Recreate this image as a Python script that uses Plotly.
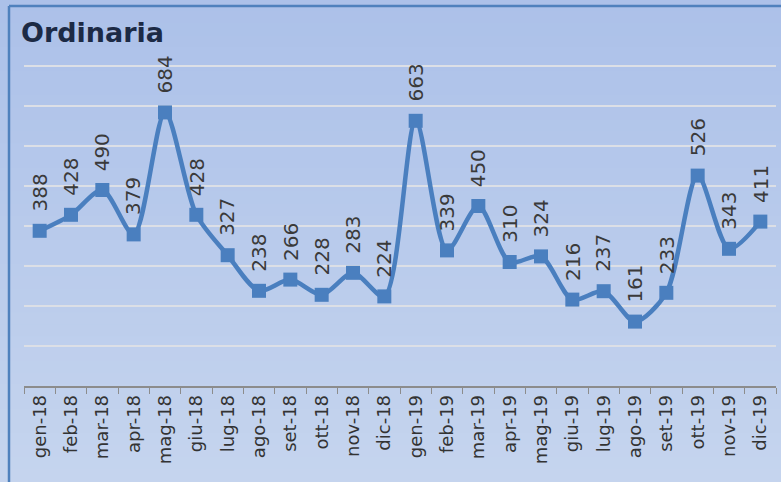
import plotly.graph_objects as go

months = ["gen-18","feb-18","mar-18","apr-18","mag-18","giu-18","lug-18","ago-18","set-18","ott-18","nov-18","dic-18",
          "gen-19","feb-19","mar-19","apr-19","mag-19","giu-19","lug-19","ago-19","set-19","ott-19","nov-19","dic-19"]
values = [388,428,490,379,684,428,327,238,266,228,283,224,
          663,339,450,310,324,216,237,161,233,526,343,411]
title_text = "Ordinaria"

W, H = 781, 482
L, R, T, B = 24, 5, 62, 96
YMAX = 810
FONT = "DejaVu Sans, Verdana, sans-serif"

fig = go.Figure()
fig.add_trace(go.Scatter(
    x=months, y=values, mode="lines+markers",
    line=dict(color="#4a7fbf", width=4.5, shape="spline", smoothing=0.8),
    marker=dict(symbol="square", size=14, color="#4a7fbf"),
    hoverinfo="x+y", showlegend=False,
))

PW, PH = W - L - R, H - T - B
px = lambda v: (v - L) / PW
py = lambda v: 1 - (v - T) / PH

shapes = []
# background gradient bands
n = 40
c0 = (172, 193, 233)
c1 = (197, 212, 238)
for i in range(n):
    f = i / (n - 1)
    c = tuple(int(round(c0[k] + (c1[k] - c0[k]) * f)) for k in range(3))
    y_top = i * H / n - 1
    y_bot = (i + 1) * H / n + 1
    shapes.append(dict(type="rect", xref="paper", yref="paper", layer="below",
                       x0=px(-5), x1=px(W + 5), y0=py(y_bot), y1=py(y_top),
                       fillcolor="rgb(%d,%d,%d)" % c, line=dict(width=0)))
# border frame (left and top)
shapes.append(dict(type="line", xref="paper", yref="paper", x0=px(9), x1=px(9), y0=py(6), y1=py(H + 10),
                   line=dict(color="#4f81bd", width=2.5)))
shapes.append(dict(type="line", xref="paper", yref="paper", x0=px(9), x1=px(W + 10), y0=py(6), y1=py(6),
                   line=dict(color="#4f81bd", width=2.5)))

annotations = []
for m, v in zip(months, values):
    annotations.append(dict(x=m, y=v, xref="x", yref="y", text=str(v), showarrow=False,
                            textangle=-90, yanchor="bottom", xanchor="center", yshift=17,
                            font=dict(family=FONT, size=20, color="#3a3a3a")))
annotations.append(dict(x=px(19), y=py(32), xref="paper", yref="paper", text="<b>%s</b>" % title_text,
                        showarrow=False, xanchor="left", yanchor="middle",
                        font=dict(family=FONT, size=27, color="#1c2a45")))

fig.update_layout(
    width=W, height=H,
    margin=dict(l=L, r=R, t=T, b=B, autoexpand=False),
    paper_bgcolor="#b8cbec", plot_bgcolor="rgba(0,0,0,0)",
    shapes=shapes, annotations=annotations,
    xaxis=dict(type="category", tickangle=-90, tickson="boundaries", ticks="outside", ticklen=6,
               tickcolor="#8c8c8c", showline=True, linecolor="#8c8c8c", linewidth=1.5,
               showgrid=False, range=[-0.5, len(months) - 0.5], automargin=False,
               tickfont=dict(family=FONT, size=18, color="#333333")),
    yaxis=dict(range=[0, YMAX], dtick=100, showgrid=True, gridcolor="#dcdfe6", gridwidth=1.5,
               showticklabels=False, zeroline=False, showline=False, fixedrange=True, automargin=False),
)
fig.write_html("out.html", config={"displayModeBar": False},
               post_script="document.body.style.margin='0';document.body.style.overflow='hidden';")
